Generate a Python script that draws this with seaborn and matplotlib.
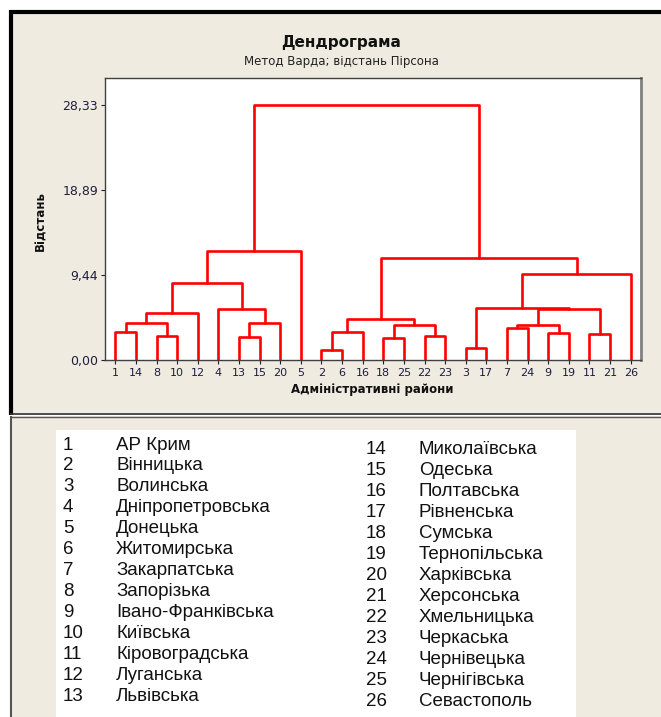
import matplotlib
matplotlib.use("Agg")
import matplotlib.pyplot as plt
from matplotlib.patches import Rectangle
from matplotlib.lines import Line2D
import seaborn as sns
import pandas as pd

# порядок листків на осі X
leaf_order = [1, 14, 8, 10, 12, 4, 13, 15, 20, 5, 2, 6, 16, 18, 25, 22, 23,
              3, 17, 7, 24, 9, 19, 11, 21, 26]

# злиття кластерів: ім'я, лівий, правий нащадок, відстань
link_names = list("abcdefghijklmnopqrstuvwxy")
link_left = [1, 8, "a", "c", 13, "e", 4, "d", "h", 2, "j", 18, 22, "l", "k",
             3, 7, 9, "q", 11, "s", "p", "v", "o", "i"]
link_right = [14, 10, "b", 12, 15, 20, "f", "g", 5, 6, 16, 25, 23, "m", "n",
              17, 24, 19, "r", 21, "t", "u", 26, "w", "x"]
link_height = [3.1, 2.7, 4.1, 5.2, 2.6, 4.1, 5.7, 8.5, 12.1, 1.15, 3.1, 2.4,
               2.7, 3.9, 4.5, 1.33, 3.5, 3.0, 3.9, 2.85, 5.7, 5.8, 9.6, 11.3,
               28.33]

y_ticks = [0, 9.44, 18.89, 28.33]
y_ticklabels = ["0,00", "9,44", "18,89", "28,33"]

region_names = ["АР Крим", "Вінницька", "Волинська", "Дніпропетровська",
                "Донецька", "Житомирська", "Закарпатська", "Запорізька",
                "Івано-Франківська", "Київська", "Кіровоградська",
                "Луганська", "Львівська", "Миколаївська", "Одеська",
                "Полтавська", "Рівненська", "Сумська", "Тернопільська",
                "Харківська", "Херсонська", "Хмельницька", "Черкаська",
                "Чернівецька", "Чернігівська", "Севастополь"]

# координати сегментів дендрограми
pos = {lab: i for i, lab in enumerate(leaf_order)}
hgt = {lab: 0.0 for lab in leaf_order}
rows = []
for name, l, r, h in zip(link_names, link_left, link_right, link_height):
    pts = [(pos[l], hgt[l]), (pos[l], h), (pos[r], h), (pos[r], hgt[r])]
    for k, (px, py) in enumerate(pts):
        rows.append({"link": name, "order": k, "x": px, "y": py})
    pos[name] = (pos[l] + pos[r]) / 2
    hgt[name] = h
df = pd.DataFrame(rows)

sns.set_style("ticks")
plt.rcParams["font.family"] = ["DejaVu Sans"]

W, H = 661, 717
fig = plt.figure(figsize=(W / 100, H / 100), dpi=100)
fig.patch.set_facecolor("white")

beige = "#EFEBE1"


def fx(px):
    return px / W


def fy(py):
    return 1 - py / H


def hline(x0, x1, y, col, lw):
    fig.add_artist(Line2D([fx(x0), fx(x1)], [fy(y), fy(y)], transform=fig.transFigure,
                          color=col, lw=lw, solid_capstyle="butt", zorder=-1))


def vline(x, y0, y1, col, lw):
    fig.add_artist(Line2D([fx(x), fx(x)], [fy(y0), fy(y1)], transform=fig.transFigure,
                          color=col, lw=lw, solid_capstyle="butt", zorder=-1))


# фон верхньої та нижньої панелей
fig.add_artist(Rectangle((fx(11), fy(415)), fx(661) - fx(11), fy(12) - fy(415),
                         transform=fig.transFigure, facecolor=beige,
                         edgecolor="none", zorder=-3))
fig.add_artist(Rectangle((fx(11), fy(717)), fx(661) - fx(11), fy(416) - fy(717),
                         transform=fig.transFigure, facecolor=beige,
                         edgecolor="none", zorder=-3))
vline(11, 10, 415, "black", 3)
hline(9.5, 661, 12, "black", 3)
vline(11, 416, 717, "#555555", 1.5)
hline(9.5, 661, 413.5, "#333333", 1.2)
hline(9.5, 661, 416.5, "#555555", 1.0)
# білий блок легенди
fig.add_artist(Rectangle((fx(56), fy(717)), fx(576) - fx(56), fy(430) - fy(717),
                         transform=fig.transFigure, facecolor="white",
                         edgecolor="none", zorder=-2))

ax = fig.add_axes([fx(105), fy(360), fx(641) - fx(105), fy(78) - fy(360)])
ax.set_facecolor("white")
sns.lineplot(data=df, x="x", y="y", units="link", estimator=None, sort=False,
             color="#FF0000", lw=1.9, ax=ax, legend=False)

ax.set_xlim(-0.5, 25.5)
ax.set_ylim(0, 31.33)
ax.set_xticks(range(len(leaf_order)))
ax.set_xticklabels([str(v) for v in leaf_order])
ax.set_yticks(y_ticks)
ax.set_yticklabels(y_ticklabels)
tick_col = "#1E1E3C"
ax.tick_params(axis="x", labelsize=8, colors=tick_col, length=3, width=0.8, pad=3)
ax.tick_params(axis="y", labelsize=9, colors=tick_col, length=3, width=0.8, pad=2)
for s in ["left", "top", "bottom"]:
    ax.spines[s].set_color("#404040")
    ax.spines[s].set_linewidth(1)
ax.spines["right"].set_color("#808080")
ax.spines["right"].set_linewidth(2)
ax.set_xlabel("")
ax.set_ylabel("")

fig.text(fx(341), fy(43), "Дендрограма", ha="center", va="center",
         fontsize=11, fontweight="bold", color="#111111")
fig.text(fx(341), fy(61), "Метод Варда; відстань Пірсона", ha="center",
         va="center", fontsize=8.5, color="#222222")
fig.text(fx(41), fy(221), "Відстань", rotation=90, ha="center", va="center",
         fontsize=8.5, fontweight="bold", color="#111111")
fig.text(fx(372), fy(389), "Адміністративні райони", ha="center", va="center",
         fontsize=8.5, fontweight="bold", color="#111111")

# легенда з назвами областей
for i, name in enumerate(region_names):
    num = i + 1
    if num <= 13:
        y = 445 + (num - 1) * 20.97
        x0, x1 = 63, 116
    else:
        y = 449.5 + (num - 14) * 20.97
        x0, x1 = 366, 419
    fig.text(fx(x0), fy(y), str(num), ha="left", va="center", fontsize=13.5,
             family="Liberation Sans", color="#111111")
    fig.text(fx(x1), fy(y), name, ha="left", va="center", fontsize=13.5,
             family="Liberation Sans", color="#111111")

fig.savefig("out.png", dpi=100)
